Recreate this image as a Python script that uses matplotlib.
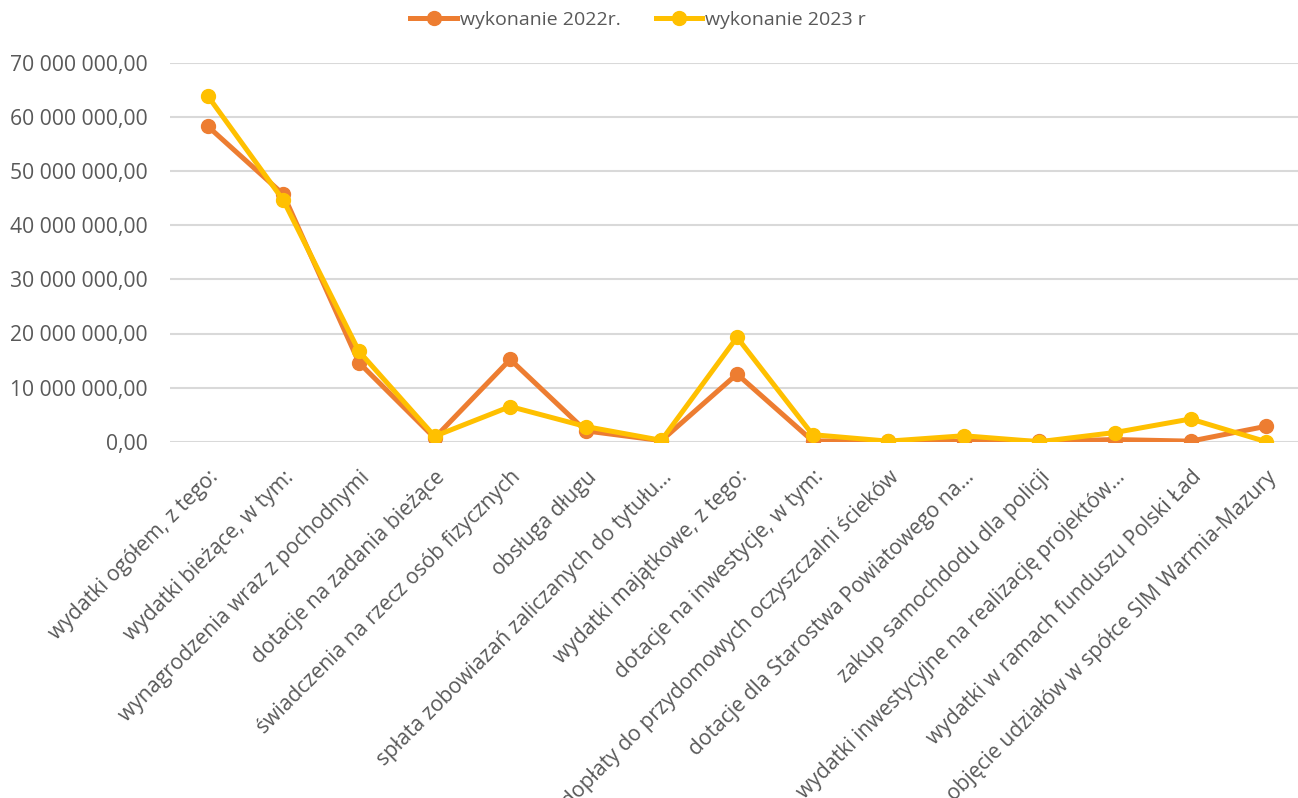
import matplotlib
matplotlib.use('Agg')
import matplotlib.pyplot as plt
from matplotlib.ticker import FuncFormatter

plt.rcParams['font.family'] = ['Open Sans', 'DejaVu Sans']

kategorie = [
    'wydatki ogółem, z tego:',
    'wydatki bieżące, w tym:',
    'wynagrodzenia wraz z pochodnymi',
    'dotacje na zadania bieżące',
    'świadczenia na rzecz osób fizycznych',
    'obsługa długu',
    'spłata zobowiazań zaliczanych do tytułu…',
    'wydatki majątkowe, z tego:',
    'dotacje na inwestycje, w tym:',
    'dopłaty do przydomowych oczyszczalni ścieków',
    'dotacje dla Starostwa Powiatowego na…',
    'zakup samochdodu dla policji',
    'wydatki inwestycyjne na realizację projektów…',
    'wydatki w ramach funduszu Polski Ład',
    'objęcie udziałów w spółce SIM Warmia-Mazury',
]

wykonanie_2022 = [58300000, 45700000, 14600000, 700000, 15200000, 2000000, 200000,
                  12500000, 150000, 50000, 100000, 50000, 400000, 100000, 2850000]
wykonanie_2023 = [63900000, 44600000, 16700000, 1000000, 6500000, 2800000, 250000,
                  19300000, 1300000, 100000, 1100000, 0, 1700000, 4200000, 0]

def fmt(v, pos):
    s = '{:,.2f}'.format(v)
    return s.replace(',', ' ').replace('.', ',')

fig = plt.figure(figsize=(12.98, 7.98), dpi=100)
ax = fig.add_axes([170 / 1298, 356.3 / 798, 1134 / 1298, 378.7 / 798])

x = range(len(kategorie))
ax.plot(x, wykonanie_2022, color='#ED7D31', linewidth=3.6, marker='o', markersize=10,
        label='wykonanie 2022r.', zorder=3)
ax.plot(x, wykonanie_2023, color='#FFC000', linewidth=3.6, marker='o', markersize=10,
        label='wykonanie 2023 r', zorder=4)

ax.set_xlim(-0.5, len(kategorie) - 0.5)
ax.set_ylim(0, 70000000)
ax.set_yticks(range(0, 70000001, 10000000))
ax.yaxis.set_major_formatter(FuncFormatter(fmt))
ax.grid(axis='y', color='#d9d9d9', linewidth=1.5)
ax.set_axisbelow(True)
for s in ax.spines.values():
    s.set_visible(False)

ax.set_xticks(list(x))
ax.set_xticklabels(kategorie, rotation=45, ha='right', rotation_mode='anchor')
ax.tick_params(axis='both', length=0, labelsize=15.2, labelcolor='#595959')
ax.tick_params(axis='y', pad=16)
ax.tick_params(axis='x', pad=18)

fig.legend(loc='center', bbox_to_anchor=(0.5 - 11 / 1298, 1 - 20 / 798), ncol=2,
           frameon=False, fontsize=14, labelcolor='#595959', handlelength=2.4,
           handletextpad=0.15, columnspacing=1.8)

fig.savefig('out.png', dpi=100)
